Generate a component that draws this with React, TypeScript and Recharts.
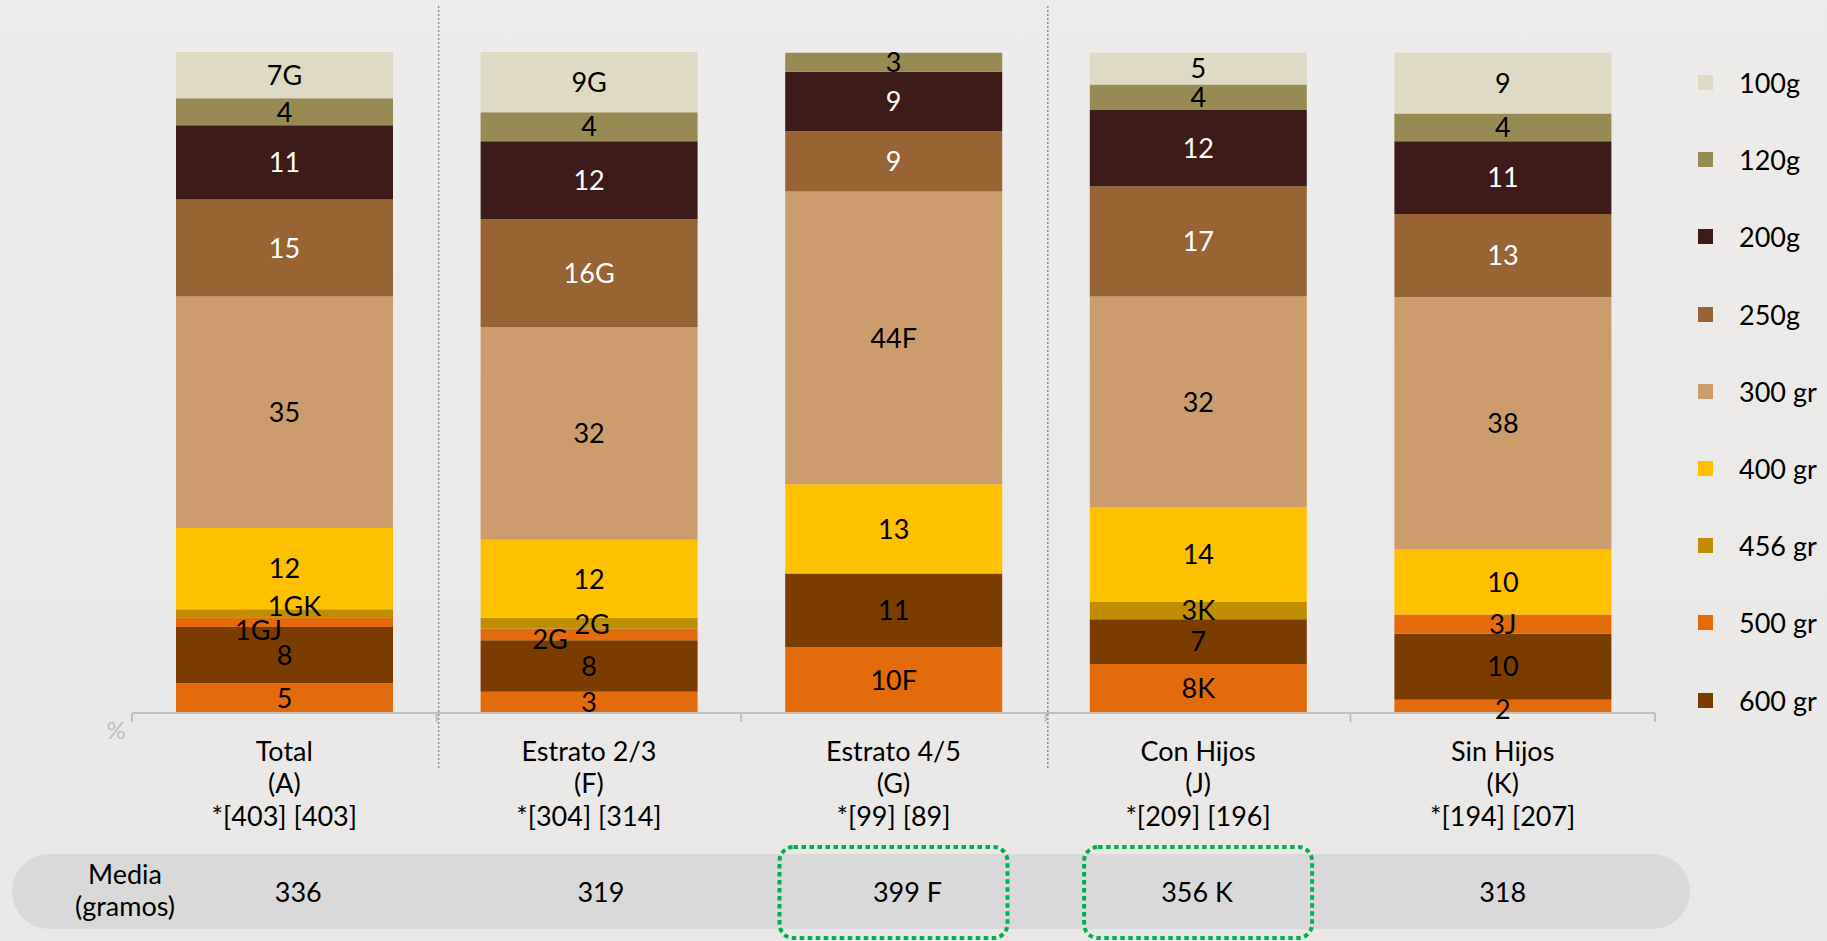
import { BarChart, Bar, XAxis, YAxis, LabelList } from 'recharts';

const CATEGORIES = ['Total', 'Estrato 2/3', 'Estrato 4/5', 'Con Hijos', 'Sin Hijos'];
const CODES = ['(A)', '(F)', '(G)', '(J)', '(K)'];
const BASES = ['*[403] [403]', '*[304] [314]', '*[99] [89]', '*[209] [196]', '*[194] [207]'];
const MEDIA = ['336', '319', '399 F', '356 K', '318'];
const MEDIA_SIGNIFICANT = [false, false, true, true, false];

// segment shares (%), bottom of the stack first
const V_BASE = [4.5, 3.2, 10.0, 7.4, 2.0];
const V_600 = [8.5, 7.8, 11.1, 6.8, 10.0];
const V_500 = [1.5, 1.8, 0, 0, 2.9];
const V_456 = [1.2, 1.6, 0, 2.6, 0];
const V_400 = [12.3, 11.8, 13.5, 14.3, 9.9];
const V_300 = [35.0, 32.2, 44.3, 31.9, 38.1];
const V_250 = [14.7, 16.3, 9.1, 16.7, 12.6];
const V_200 = [11.2, 11.8, 9.0, 11.6, 11.0];
const V_120 = [4.1, 4.4, 2.9, 3.8, 4.2];
const V_100 = [7.0, 9.1, 0, 4.8, 9.2];

// printed labels (rounded value + significance letters)
const L_BASE = ['5', '3', '10F', '8K', '2'];
const L_600 = ['8', '8', '11', '7', '10'];
const L_500 = ['1GJ', '2G', '', '', '3J'];
const L_456 = ['1GK', '2G', '', '3K', ''];
const L_400 = ['12', '12', '13', '14', '10'];
const L_300 = ['35', '32', '44F', '32', '38'];
const L_250 = ['15', '16G', '9', '17', '13'];
const L_200 = ['11', '12', '9', '12', '11'];
const L_120 = ['4', '4', '3', '4', '4'];
const L_100 = ['7G', '9G', '', '5', '9'];

const SERIES = [
  { key: 'base', name: '', values: V_BASE, labels: L_BASE, color: '#E36B0C', ink: '#000', legend: false },
  { key: 'g600', name: '600 gr', values: V_600, labels: L_600, color: '#7B3C00', ink: '#000', legend: true },
  { key: 'g500', name: '500 gr', values: V_500, labels: L_500, color: '#E36B0C', ink: '#000', legend: true },
  { key: 'g456', name: '456 gr', values: V_456, labels: L_456, color: '#C08E00', ink: '#000', legend: true },
  { key: 'g400', name: '400 gr', values: V_400, labels: L_400, color: '#FFC000', ink: '#000', legend: true },
  { key: 'g300', name: '300 gr', values: V_300, labels: L_300, color: '#CC9C6C', ink: '#000', legend: true },
  { key: 'g250', name: '250g', values: V_250, labels: L_250, color: '#986434', ink: '#fff', legend: true },
  { key: 'g200', name: '200g', values: V_200, labels: L_200, color: '#3E1B19', ink: '#fff', legend: true },
  { key: 'g120', name: '120g', values: V_120, labels: L_120, color: '#978A52', ink: '#000', legend: true },
  { key: 'g100', name: '100g', values: V_100, labels: L_100, color: '#DFDAC4', ink: '#000', legend: true },
];

const rows = CATEGORIES.map((name, i) => {
  const row: Record<string, string | number> = { name };
  SERIES.forEach((s) => {
    row[s.key] = s.values[i];
    row[`${s.key}_l`] = s.labels[i];
  });
  return row;
});

const FONT = 'Lato, "Open Sans", sans-serif';
const FS = 27;

// small segments whose labels sit off-centre in the original
const NUDGE: Record<string, [number, number]> = {
  'g456-0': [10, -7],
  'g500-0': [-26, 8],
  'g456-1': [3, 1],
  'g500-1': [-39, 5],
  'g500-4': [-35, 0],
  'base-4': [0, 3],
};
const MEDIA_SHIFT = [14, 12, 14, -1, 0];
const SEPARATOR_BEFORE = [1, 3];

const segmentLabel = (key: string, ink: string) => (props: any) => {
  const vb = props.viewBox ?? props;
  const { x, y, width, height } = vb;
  const { value, index } = props;
  if (!value) return null;
  const [dx, dy] = NUDGE[`${key}-${index}`] ?? [0, 0];
  return (
    <text
      x={x + width / 2 + dx}
      y={y + height / 2 + dy + FS * 0.36}
      textAnchor="middle"
      fill={ink}
      fontSize={FS}
      fontFamily={FONT}
    >
      {value}
    </text>
  );
};

function CategoryTick(props: any) {
  const { x, y, payload } = props;
  const i: number = payload.index ?? props.index ?? 0;
  const half: number = payload.offset || 152.3;
  const left = x - half;
  const right = x + half;
  return (
    <g fontFamily={FONT}>
      <line x1={left} x2={left} y1={y} y2={y + 9} stroke="#BFBFBF" strokeWidth={2} />
      {i === CATEGORIES.length - 1 && (
        <line x1={right} x2={right} y1={y} y2={y + 9} stroke="#BFBFBF" strokeWidth={2} />
      )}
      {i === 0 && (
        <text x={left - 16} y={y + 26} textAnchor="middle" fill="#BFBFBF" fontSize={24}>
          %
        </text>
      )}
      {SEPARATOR_BEFORE.includes(i) && (
        <line
          x1={left + 2}
          x2={left + 2}
          y1={6}
          y2={y + 56}
          stroke="#8E8E8E"
          strokeWidth={1.5}
          strokeDasharray="2 2"
        />
      )}
      <text x={x} y={y + 48} textAnchor="middle" fill="#000" fontSize={FS}>
        {CATEGORIES[i]}
      </text>
      <text x={x} y={y + 80} textAnchor="middle" fill="#000" fontSize={FS}>
        {CODES[i]}
      </text>
      <text x={x} y={y + 113} textAnchor="middle" fill="#000" fontSize={FS}>
        {BASES[i]}
      </text>
      {MEDIA_SIGNIFICANT[i] && (
        <rect
          x={x - 114}
          y={y + 134}
          width={228}
          height={91}
          rx={14}
          fill="none"
          stroke="#00B050"
          strokeWidth={4}
          strokeDasharray="4.5 3.5"
        />
      )}
      <text x={x + MEDIA_SHIFT[i]} y={y + 189} textAnchor="middle" fill="#000" fontSize={FS}>
        {MEDIA[i]}
      </text>
    </g>
  );
}

export default function App() {
  const legendItems = SERIES.filter((s) => s.legend).reverse();
  return (
    <div
      style={{
        position: 'absolute',
        left: 0,
        top: 0,
        width: 1827,
        height: 941,
        overflow: 'hidden',
        background: 'linear-gradient(180deg, #EDECEA 0%, #E9E8E6 100%)',
        fontFamily: FONT,
      }}
    >
      {/* media row */}
      <div
        style={{
          position: 'absolute',
          left: 12,
          top: 854,
          width: 1678,
          height: 75,
          borderRadius: 38,
          background: '#D9D9D9',
        }}
      />
      <div
        style={{
          position: 'absolute',
          left: 25,
          top: 858,
          width: 200,
          textAlign: 'center',
          fontSize: FS,
          lineHeight: '32px',
          color: '#000',
        }}
      >
        Media
        <br />
        (gramos)
      </div>

      <div style={{ position: 'absolute', left: 0, top: 0 }}>
        <BarChart
          width={1827}
          height={941}
          data={rows}
          margin={{ top: 52, right: 172, bottom: 28, left: 132 }}
          barSize={217}
        >
          <XAxis
            dataKey="name"
            height={200}
            axisLine={{ stroke: '#BFBFBF', strokeWidth: 2 }}
            tickLine={false}
            tickSize={0}
            tickMargin={0}
            interval={0}
            tick={<CategoryTick />}
          />
          <YAxis hide type="number" domain={[0, 100]} />
          {SERIES.map((s) => (
            <Bar
              key={s.key}
              dataKey={s.key}
              name={s.name}
              stackId="a"
              fill={s.color}
              isAnimationActive={false}
            >
              <LabelList dataKey={`${s.key}_l`} content={segmentLabel(s.key, s.ink)} />
            </Bar>
          ))}
        </BarChart>
      </div>

      {/* legend */}
      <div style={{ position: 'absolute', left: 1698, top: 44 }}>
        {legendItems.map((s) => (
          <div
            key={s.key}
            style={{ height: 77.2, display: 'flex', alignItems: 'center', whiteSpace: 'nowrap' }}
          >
            <span style={{ width: 15, height: 15, background: s.color, display: 'inline-block' }} />
            <span style={{ marginLeft: 26, fontSize: FS, color: '#000' }}>{s.name}</span>
          </div>
        ))}
      </div>
    </div>
  );
}
